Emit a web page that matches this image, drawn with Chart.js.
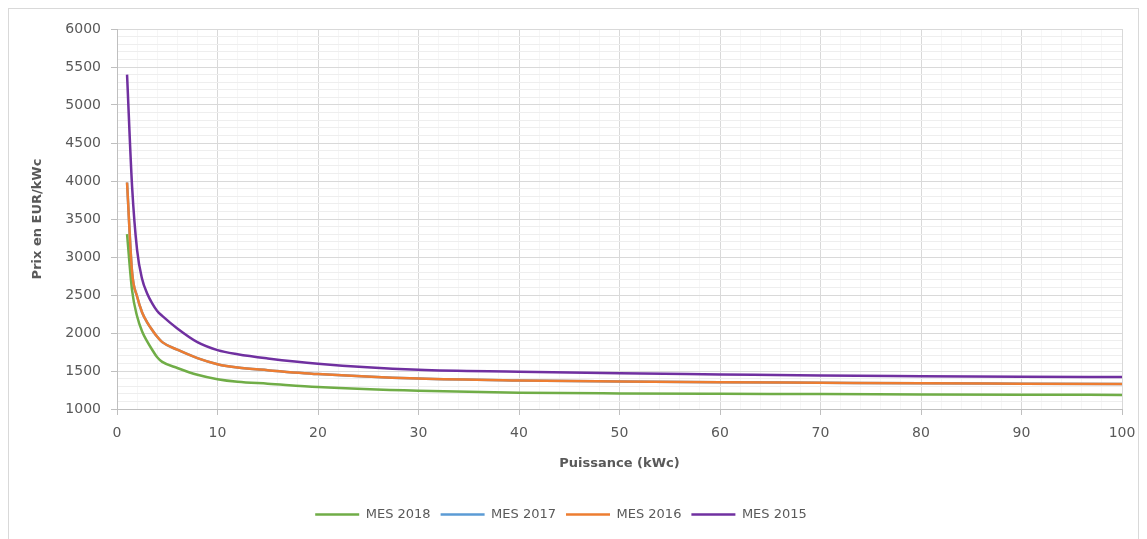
<!DOCTYPE html>
<html>
<head>
<meta charset="utf-8">
<script src="https://cdn.jsdelivr.net/npm/chart.js@4/dist/chart.umd.min.js"></script>
<style>
  html, body { margin: 0; padding: 0; background: #fff; }
  #wrap { position: relative; width: 1147px; height: 539px; }
  #frame { position: absolute; left: 8px; top: 8px; width: 1131px; height: 540px; border: 1px solid #d9d9d9; box-sizing: border-box; }
  canvas { position: absolute; left: 0; top: 0; }
</style>
</head>
<body>
<div id="wrap">
  <div id="frame"></div>
  <canvas id="prixChart" width="1147" height="539"></canvas>
</div>
<script>
// Puissance (kWc)
var puissance = [1, 1.5, 2, 2.5, 3, 3.5, 4, 4.5, 6, 8, 10, 12, 15, 20, 30, 40, 50, 60, 70, 80, 90, 100];

// Prix en EUR/kWc
var mes2018 = [3300, 2560, 2220, 2020, 1890, 1780, 1680, 1620, 1540, 1450, 1392, 1358, 1333, 1290, 1240, 1215, 1205, 1200, 1197, 1192, 1188, 1185];
var mes2017 = [3980, 2800, 2480, 2270, 2140, 2040, 1950, 1880, 1780, 1670, 1590, 1545, 1510, 1460, 1400, 1375, 1362, 1352, 1345, 1338, 1333, 1328];
var mes2016 = [3980, 2800, 2480, 2270, 2140, 2040, 1950, 1880, 1780, 1670, 1590, 1545, 1510, 1460, 1400, 1375, 1362, 1352, 1345, 1338, 1333, 1328];
var mes2015 = [5400, 3930, 3090, 2710, 2520, 2390, 2290, 2225, 2060, 1880, 1775, 1720, 1665, 1595, 1515, 1490, 1470, 1455, 1440, 1432, 1425, 1420];

var seriesNames = ['MES 2018', 'MES 2017', 'MES 2016', 'MES 2015'];
var seriesColors = ['#70ad47', '#5b9bd5', '#ed7d31', '#7030a0'];

function pts(values) {
    return values.map(function (v, i) { return { x: puissance[i], y: v }; });
}

var textColor = '#595959';
var fontFamily = '"DejaVu Sans", sans-serif';

document.addEventListener('DOMContentLoaded', function () {
    var ctx = document.getElementById('prixChart').getContext('2d');
    var allSeries = [mes2018, mes2017, mes2016, mes2015];
    // orange drawn over blue (same values), purple on top
    var drawOrder = [2, 3, 1, 0];

    var prixChart = new Chart(ctx, {
        type: 'line',
        data: {
            datasets: allSeries.map(function (s, i) {
                return {
                    label: seriesNames[i],
                    data: pts(s),
                    borderColor: seriesColors[i],
                    backgroundColor: seriesColors[i],
                    borderWidth: 2.5,
                    pointRadius: 0,
                    cubicInterpolationMode: 'monotone',
                    fill: false,
                    order: drawOrder[i]
                };
            })
        },
        options: {
            responsive: false,
            animation: false,
            layout: { padding: { left: 0, top: 29, right: 25, bottom: 8 } },
            plugins: {
                tooltip: { enabled: false },
                legend: {
                    position: 'bottom',
                    labels: {
                        color: textColor,
                        font: { family: fontFamily, size: 13 },
                        usePointStyle: true,
                        pointStyle: 'line',
                        pointStyleWidth: 44,
                        boxHeight: 13,
                        padding: 10,
                        sort: function (a, b) { return a.datasetIndex - b.datasetIndex; }
                    }
                }
            },
            scales: {
                x: {
                    type: 'linear',
                    min: 0,
                    max: 100,
                    ticks: {
                        stepSize: 2,
                        autoSkip: false,
                        maxRotation: 0,
                        color: textColor,
                        padding: 10,
                        font: { family: fontFamily, size: 14 },
                        callback: function (v) { return v % 10 === 0 ? v : ''; }
                    },
                    grid: {
                        tickLength: 6,
                        color: function (c) { return c.tick && c.tick.value % 10 === 0 ? '#d9d9d9' : '#f6f6f6'; },
                        tickColor: function (c) { return c.tick && c.tick.value % 10 === 0 ? '#bfbfbf' : 'rgba(0,0,0,0)'; }
                    },
                    border: { color: '#bfbfbf' },
                    title: {
                        display: true,
                        text: 'Puissance (kWc)',
                        color: textColor,
                        font: { family: fontFamily, size: 13, weight: 'bold' },
                        padding: { top: 0, bottom: 27 }
                    },
                    afterFit: function (scale) { scale.height = 89; }
                },
                y: {
                    min: 1000,
                    max: 6000,
                    ticks: {
                        stepSize: 100,
                        autoSkip: false,
                        color: textColor,
                        padding: 10,
                        font: { family: fontFamily, size: 14 },
                        callback: function (v) { return v % 500 === 0 ? v : ''; }
                    },
                    grid: {
                        tickLength: 6,
                        color: function (c) { return c.tick && c.tick.value % 500 === 0 ? '#d9d9d9' : '#eeeeee'; },
                        tickColor: function (c) { return c.tick && c.tick.value % 500 === 0 ? '#bfbfbf' : 'rgba(0,0,0,0)'; }
                    },
                    border: { color: '#bfbfbf' },
                    title: {
                        display: true,
                        text: 'Prix en EUR/kWc',
                        color: textColor,
                        font: { family: fontFamily, size: 13, weight: 'bold' },
                        padding: { top: 30, bottom: 0 }
                    },
                    afterFit: function (scale) { scale.width = 117; }
                }
            }
        }
    });
});
</script>
</body>
</html>
